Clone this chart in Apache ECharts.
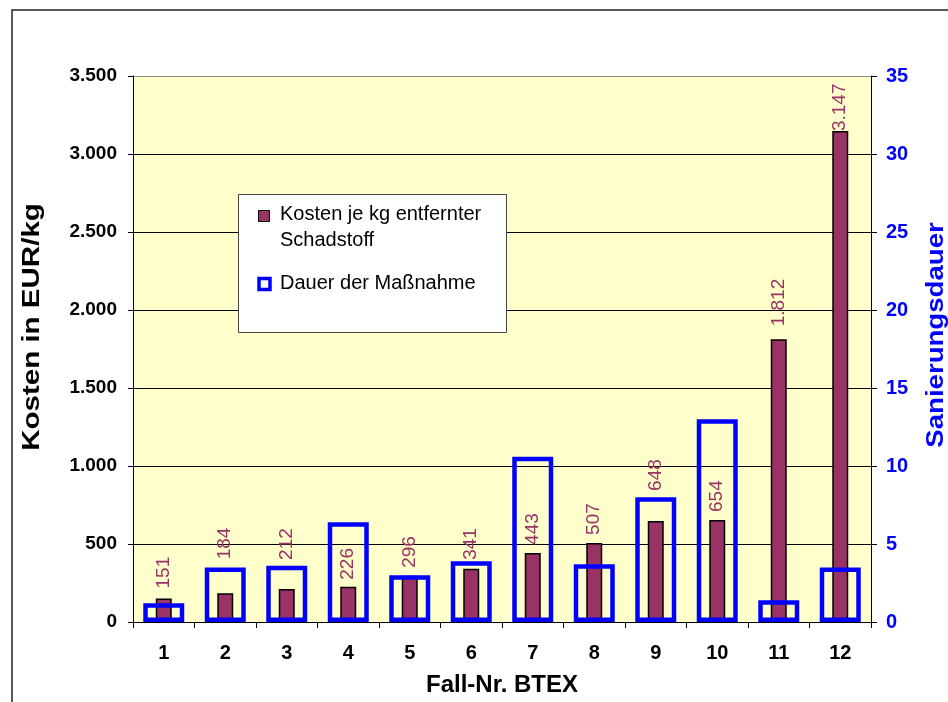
<!DOCTYPE html>
<html>
<head>
<meta charset="utf-8">
<script src="https://cdn.jsdelivr.net/npm/echarts@6/dist/echarts.min.js"></script>
<style>
  html, body { margin: 0; padding: 0; background: #fff; }
  #chart { width: 948px; height: 702px; }
</style>
</head>
<body>
<div id="chart"></div>
<script>
// Fall-Nr. BTEX
const cases = ['1', '2', '3', '4', '5', '6', '7', '8', '9', '10', '11', '12'];
// Kosten je kg entfernter Schadstoff (EUR/kg)
const costPerKg = [151, 184, 212, 226, 296, 341, 443, 507, 648, 654, 1812, 3147];
// Dauer der Maßnahme (Jahre)
const durationYears = [1.2, 3.5, 3.6, 6.4, 3.0, 3.9, 10.6, 3.7, 8.0, 13.0, 1.4, 3.5];
// axis ranges
const costAxis = { min: 0, max: 3500, interval: 500 };
const durationAxis = { min: 0, max: 35, interval: 5 };
const seriesNames = ['Kosten je kg entfernter Schadstoff', 'Dauer der Maßnahme'];
const axisTitles = { cost: 'Kosten in EUR/kg', duration: 'Sanierungsdauer', cases: 'Fall-Nr. BTEX' };

// gap between each cost bar and its value label (px)
const labelGap = [10, 34, 29, 7, 8, 9, 8, 8, 30, 8, 13, 0];

const FONT = "'Liberation Sans', Arial, sans-serif";
const MAROON = '#993366';
const BLUE = '#0000FF';

// German thousands separator: 1812 -> 1.812
function de(n) {
  return String(n).replace(/\B(?=(\d{3})+(?!\d))/g, '.');
}

const chart = echarts.init(document.getElementById('chart'), null, { renderer: 'canvas' });

const gridLineColors = [];
for (let v = costAxis.min; v <= costAxis.max; v += costAxis.interval) {
  gridLineColors.push(v === costAxis.max ? '#8c8c8c' : '#000000');
}

const option = {
  animation: false,
  backgroundColor: '#ffffff',
  textStyle: { fontFamily: FONT },
  grid: {
    left: 133, right: 77, top: 76, bottom: 80,
    show: true,
    backgroundColor: '#FFFFCC',
    borderWidth: 0
  },
  xAxis: [
    {
      type: 'category',
      data: cases,
      gridIndex: 0,
      position: 'bottom',
      boundaryGap: true,
      axisLine: { show: true, lineStyle: { color: '#000', width: 1 } },
      axisTick: { show: true, length: 6, lineStyle: { color: '#000' } },
      axisLabel: { color: '#000', fontWeight: 'bold', fontSize: 20, fontFamily: FONT, margin: 21 },
      splitLine: { show: false }
    },
    {
      type: 'category',
      data: cases,
      gridIndex: 0,
      position: 'bottom',
      show: false
    }
  ],
  yAxis: [
    {
      type: 'value',
      min: costAxis.min, max: costAxis.max, interval: costAxis.interval,
      position: 'left',
      axisLine: { show: true, lineStyle: { color: '#000', width: 1 } },
      axisTick: { show: true, length: 5, lineStyle: { color: '#000' } },
      axisLabel: {
        color: '#000', fontWeight: 'bold', fontSize: 19, fontFamily: FONT, margin: 16,
        formatter: v => de(v)
      },
      splitLine: { show: true, lineStyle: { color: gridLineColors, width: 1 } }
    },
    {
      type: 'value',
      min: durationAxis.min, max: durationAxis.max, interval: durationAxis.interval,
      position: 'right',
      axisLine: { show: true, lineStyle: { color: '#000', width: 1 } },
      axisTick: { show: true, length: 6, lineStyle: { color: '#000' } },
      axisLabel: { color: BLUE, fontWeight: 'bold', fontSize: 20, fontFamily: FONT, margin: 15 },
      splitLine: { show: false }
    }
  ],
  series: [
    {
      name: seriesNames[0],
      type: 'bar',
      xAxisIndex: 0,
      yAxisIndex: 0,
      barWidth: 16,
      z: 2,
      itemStyle: { color: MAROON, borderColor: '#000', borderWidth: 1.5 },
      label: {
        show: true,
        position: 'top',
        rotate: 90,
        align: 'left',
        verticalAlign: 'middle',
        color: MAROON,
        fontSize: 19,
        fontFamily: FONT,
        formatter: p => de(p.value)
      },
      data: costPerKg.map((v, i) => ({ value: v, label: { distance: labelGap[i] } }))
    },
    {
      name: seriesNames[1],
      type: 'bar',
      xAxisIndex: 1,
      yAxisIndex: 1,
      barWidth: 41,
      z: 3,
      itemStyle: { color: 'rgba(0,0,0,0)', borderColor: BLUE, borderWidth: 4.5 },
      data: durationYears
    }
  ],
  graphic: [
    // chart frame
    {
      type: 'rect', silent: true, z: 100,
      shape: { x: 12, y: 10, width: 1000, height: 1000 },
      style: { fill: null, stroke: '#222', lineWidth: 1.5 }
    },
    // axis titles
    {
      type: 'text', silent: true, z: 100, x: 32, y: 327, rotation: Math.PI / 2, scaleX: 1.23,
      style: { text: axisTitles.cost, font: "bold 24px " + FONT, fill: '#000', align: 'center', verticalAlign: 'middle' }
    },
    {
      type: 'text', silent: true, z: 100, x: 936, y: 335, rotation: Math.PI / 2, scaleX: 1.15,
      style: { text: axisTitles.duration, font: "bold 24px " + FONT, fill: BLUE, align: 'center', verticalAlign: 'middle' }
    },
    {
      type: 'text', silent: true, z: 100, x: 502, y: 685,
      style: { text: axisTitles.cases, font: "bold 24px " + FONT, fill: '#000', align: 'center', verticalAlign: 'middle' }
    },
    // legend box
    {
      type: 'rect', z: 100, shape: { x: 238.5, y: 194.5, width: 268, height: 138 },
      style: { fill: '#fff', stroke: '#444', lineWidth: 1 }
    },
    {
      type: 'rect', z: 101, shape: { x: 258.5, y: 210.5, width: 11, height: 11 },
      style: { fill: MAROON, stroke: '#000', lineWidth: 1 }
    },
    {
      type: 'text', z: 101, x: 280, y: 214,
      style: { text: 'Kosten je kg entfernter', font: "20px " + FONT, fill: '#000', verticalAlign: 'middle' }
    },
    {
      type: 'text', z: 101, x: 280, y: 240,
      style: { text: 'Schadstoff', font: "20px " + FONT, fill: '#000', verticalAlign: 'middle' }
    },
    {
      type: 'rect', z: 101, shape: { x: 259, y: 278.5, width: 11, height: 11 },
      style: { fill: '#fff', stroke: BLUE, lineWidth: 3.5 }
    },
    {
      type: 'text', z: 101, x: 280, y: 283,
      style: { text: seriesNames[1], font: "20px " + FONT, fill: '#000', verticalAlign: 'middle' }
    }
  ]
};

chart.setOption(option);
</script>
</body>
</html>
